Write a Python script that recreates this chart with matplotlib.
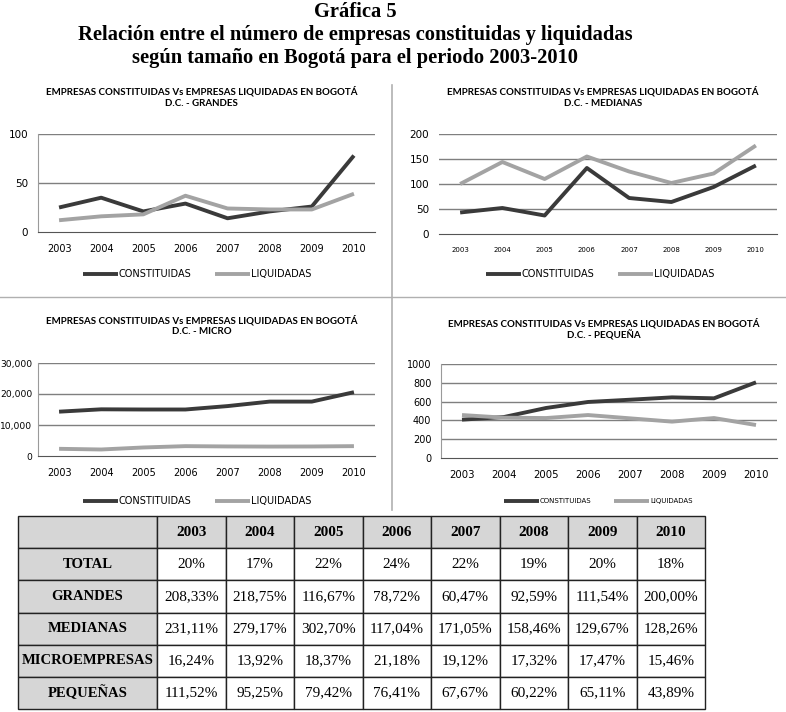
import matplotlib.pyplot as plt
import matplotlib.ticker as mticker
from matplotlib.lines import Line2D
from matplotlib.transforms import Bbox

# %% Data

YEARS = ["2003", "2004", "2005", "2006", "2007", "2008", "2009", "2010"]

GRANDES_CONST = [25, 35, 21, 29, 14, 21, 26, 78]
GRANDES_LIQ = [12, 16, 18, 37, 24, 23, 23, 39]

MEDIANAS_CONST = [43, 52, 37, 132, 72, 64, 94, 137]
MEDIANAS_LIQ = [100, 144, 110, 155, 125, 102, 121, 177]

MICRO_CONST = [14300, 15060, 15000, 15000, 16100, 17550, 17550, 20580]
MICRO_LIQ = [2320, 2100, 2750, 3180, 3080, 3040, 3070, 3180]

PEQ_CONST = [408, 436, 532, 596, 620, 645, 635, 805]
PEQ_LIQ = [457, 429, 425, 457, 422, 387, 425, 351]

TABLE_ROWS = ["TOTAL", "GRANDES", "MEDIANAS", "MICROEMPRESAS", "PEQUEÑAS"]
TABLE_VALUES = [
    ["20%", "17%", "22%", "24%", "22%", "19%", "20%", "18%"],
    ["208,33%", "218,75%", "116,67%", "78,72%", "60,47%", "92,59%", "111,54%", "200,00%"],
    ["231,11%", "279,17%", "302,70%", "117,04%", "171,05%", "158,46%", "129,67%", "128,26%"],
    ["16,24%", "13,92%", "18,37%", "21,18%", "19,12%", "17,32%", "17,47%", "15,46%"],
    ["111,52%", "95,25%", "79,42%", "76,41%", "67,67%", "60,22%", "65,11%", "43,89%"],
]

TITLE_LINE = "EMPRESAS CONSTITUIDAS Vs EMPRESAS LIQUIDADAS EN BOGOTÁ"
DARK = "#3a3a3a"
LIGHT = "#a3a3a3"
GRID = "#7f7f7f"

W, H = 786, 712
fig = plt.figure(figsize=(W / 100, H / 100), dpi=100)


def fx(px):
    return px / W


def fy(py):
    return 1 - py / H


def px_axes(x0, x1, y_top, y_bot):
    return fig.add_axes([fx(x0), fy(y_bot), fx(x1) - fx(x0), fy(y_top) - fy(y_bot)])


# %% Main title
for txt, y in [("Gráfica 5", 12),
               ("Relación entre el número de empresas constituidas y liquidadas", 35),
               ("según tamaño en Bogotá para el periodo 2003-2010", 58)]:
    fig.text(fx(355), fy(y), txt, ha="center", va="center",
             family="Liberation Serif", weight="bold", fontsize=14.8)

# quadrant dividers
fig.add_artist(Line2D([fx(392), fx(392)], [fy(85), fy(510)], color="#b0b0b0", lw=1.2))
fig.add_artist(Line2D([0, 1], [fy(297), fy(297)], color="#b0b0b0", lw=1.0))


def chart(box, const, liq, ylim, yticks, subtitle, title_y, legend_y, legend_x,
          left_spine=True, fmt=None, xtick_size=7, ytick_size=7.5, legend_size=7):
    ax = px_axes(*box)
    x = range(len(YEARS))
    ax.plot(x, const, color=DARK, lw=2.8, solid_capstyle="butt", label="CONSTITUIDAS", zorder=3)
    ax.plot(x, liq, color=LIGHT, lw=2.8, solid_capstyle="butt", label="LIQUIDADAS", zorder=3)
    ax.set_xlim(-0.5, len(YEARS) - 0.5)
    ax.set_ylim(*ylim)
    ax.set_xticks(list(x))
    ax.set_xticklabels(YEARS, family="DejaVu Sans", fontsize=xtick_size)
    ax.set_yticks(yticks)
    if fmt:
        ax.yaxis.set_major_formatter(mticker.FuncFormatter(fmt))
    for lab in ax.get_yticklabels():
        lab.set_family("DejaVu Sans")
        lab.set_fontsize(ytick_size)
    ax.tick_params(length=0, pad=7)
    ax.tick_params(axis="x", pad=9)
    for y in yticks[1:]:
        ax.axhline(y, color=GRID, lw=1.0, zorder=1)
    for s in ("top", "right"):
        ax.spines[s].set_visible(False)
    ax.spines["bottom"].set_color("#555555")
    ax.spines["left"].set_color("#9a9a9a")
    ax.spines["left"].set_visible(left_spine)
    cx = (box[0] + box[1]) / 2 - 5
    fig.text(fx(cx), fy(title_y), TITLE_LINE, ha="center", va="center",
             family="Lato", weight="bold", fontsize=7.0)
    fig.text(fx(cx), fy(title_y + 12), "D.C. - " + subtitle, ha="center", va="center",
             family="Lato", weight="bold", fontsize=7.0)
    ax.legend(loc="center", bbox_to_anchor=(fx(legend_x), fy(legend_y)),
              bbox_transform=fig.transFigure, ncol=2, frameon=False,
              prop={"family": "DejaVu Sans", "size": legend_size},
              handlelength=3.6 * 7 / legend_size, handletextpad=0.1,
              columnspacing=2.4 * 7 / legend_size)
    return ax


chart((38, 375, 134, 232), GRANDES_CONST, GRANDES_LIQ, (0, 100), [0, 50, 100],
      "GRANDES", 91, 274, 197)
chart((439, 777, 134, 234), MEDIANAS_CONST, MEDIANAS_LIQ, (0, 200), [0, 50, 100, 150, 200],
      "MEDIANAS", 91, 274, 600, left_spine=False, xtick_size=5)
ax_micro = chart((38, 375, 363, 456), MICRO_CONST, MICRO_LIQ, (0, 30000),
                 [0, 10000, 20000, 30000], "MICRO", 320, 501, 197,
                 fmt=lambda v, p: f"{int(v):,}", ytick_size=6.6)
ax_micro.tick_params(axis="y", pad=4)
chart((441, 777, 364, 458), PEQ_CONST, PEQ_LIQ, (0, 1000), [0, 200, 400, 600, 800, 1000],
      "PEQUEÑA", 323, 501, 598, xtick_size=7.3, ytick_size=7, legend_size=5)

# %% Table
tab_ax = px_axes(18, 705, 516, 709)
tab_ax.axis("off")
cell_text = [[""] + YEARS] + [[r] + v for r, v in zip(TABLE_ROWS, TABLE_VALUES)]
col_w = [139] + [68.5] * len(YEARS)
tot = sum(col_w)
table = tab_ax.table(cellText=cell_text, colWidths=[c / tot for c in col_w],
                     bbox=Bbox.from_bounds(0, 0, 1, 1), cellLoc="center")
table.auto_set_font_size(False)
for (r, c), cell in table.get_celld().items():
    cell.set_edgecolor("#222222")
    cell.set_linewidth(1.0)
    txt = cell.get_text()
    txt.set_family("Liberation Serif")
    txt.set_fontsize(10.5 if c == 0 else 11)
    if r == 0 or c == 0:
        cell.set_facecolor("#d6d6d6")
        txt.set_weight("bold")
    else:
        cell.set_facecolor("white")

fig.savefig("out.png", dpi=100)
